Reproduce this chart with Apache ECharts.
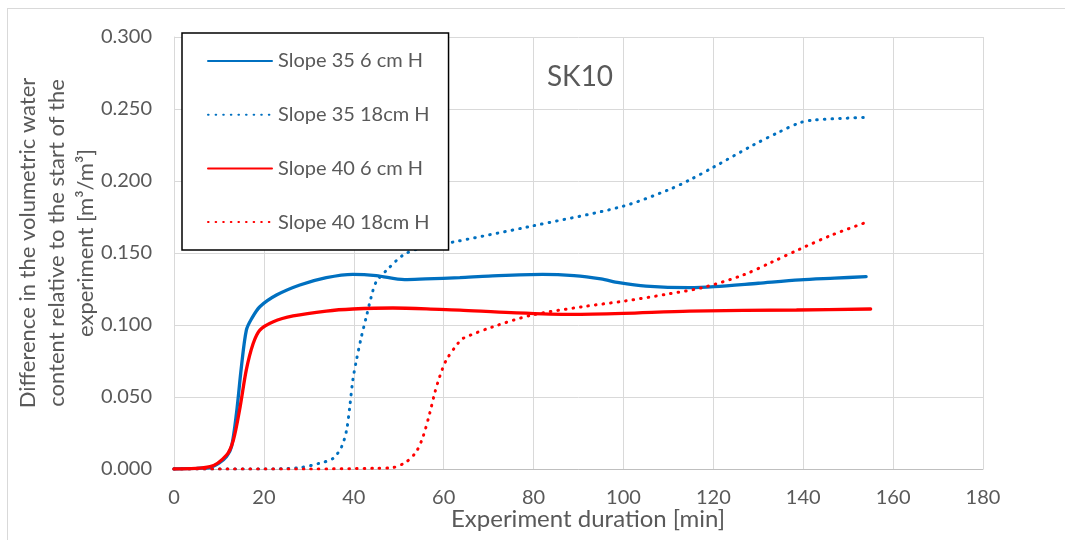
<!DOCTYPE html>
<html>
<head>
<meta charset="utf-8">
<script src="https://cdn.jsdelivr.net/npm/echarts@6/dist/echarts.min.js"></script>
<style>
  html, body { margin: 0; padding: 0; background: #fff; }
  #frame { position: absolute; left: 7px; top: 8px; width: 1070px; height: 540px; border: 1px solid #d9d9d9; box-sizing: border-box; }
  #main { position: absolute; left: 0; top: 0; width: 1065px; height: 540px; }
</style>
</head>
<body>
<div id="frame"></div>
<div id="main"></div>
<script>
// time [min] and value [m3/m3]
var s35_6_t = [0, 5, 8, 10, 11.7, 12.8, 13.9, 15, 16.1, 17.3, 19.1, 22.8, 28, 33.9, 39.8, 45, 51.3, 56, 63.6, 70, 82, 89, 95, 99, 105, 114.7, 120.2, 130, 139.3, 147, 154]
var s35_6_v = [0, 0.0005, 0.001, 0.004, 0.0086, 0.0155, 0.0387, 0.071, 0.0965, 0.1046, 0.1127, 0.1208, 0.1278, 0.1329, 0.1352, 0.1343, 0.1315, 0.132, 0.1329, 0.134, 0.1352, 0.1343, 0.132, 0.1294, 0.127, 0.1259, 0.1266, 0.129, 0.1313, 0.1325, 0.1336]

var s35_18_t = [0, 20, 28, 32.4, 35.4, 37.3, 38.4, 39.1, 39.8, 40.6, 41.7, 42.8, 43.9, 45, 47.3, 51, 54.7, 61.5, 79, 99.6, 109.9, 114.7, 120.2, 128.9, 134.5, 139.3, 142.5, 154]
var s35_18_v = [0, 0, 0.001, 0.004, 0.0074, 0.0155, 0.027, 0.043, 0.062, 0.0757, 0.0919, 0.1058, 0.1197, 0.13, 0.138, 0.1486, 0.1532, 0.1572, 0.1683, 0.1822, 0.1937, 0.2007, 0.2099, 0.225, 0.2338, 0.2405, 0.2424, 0.2442]

var s40_6_t = [0, 8, 11.7, 13.2, 14.7, 16.1, 17.6, 19.1, 22.1, 26.5, 33.9, 39.8, 48.7, 59.1, 63.6, 75, 88.5, 100, 114.7, 138.5, 155]
var s40_6_v = [0, 0.0016, 0.0097, 0.02, 0.043, 0.069, 0.087, 0.0965, 0.1023, 0.1063, 0.1097, 0.1111, 0.1118, 0.1109, 0.1104, 0.1086, 0.1074, 0.1081, 0.1097, 0.1104, 0.1111]

var s40_18_t = [0, 30, 45, 48.7, 51.7, 53.9, 55.4, 56.9, 58, 59.1, 60.6, 63.2, 64.3, 71, 79.8, 90.9, 100.4, 109.9, 117.9, 126.6, 132.9, 139.3, 146.4, 154]
var s40_18_v = [0, 0, 0.0005, 0.001, 0.005, 0.012, 0.0224, 0.0387, 0.0526, 0.064, 0.0757, 0.0873, 0.0907, 0.0988, 0.107, 0.1127, 0.1167, 0.1215, 0.1262, 0.1347, 0.1435, 0.1528, 0.1625, 0.1713]

var seriesNames = ['Slope 35 6 cm H', 'Slope 35 18cm H', 'Slope 40 6 cm H', 'Slope 40 18cm H']

function pairs(t, v) {
  return t.map(function (x, i) { return [x, v[i]] })
}

var font = 'Lato, "Open Sans", sans-serif'
var grey = '#595959'
var blue = '#0070C0'
var red = '#FF0000'

var myChart = echarts.init(document.getElementById('main'))

function lineSeries(name, data, color, dotted) {
  return {
    name: name,
    type: 'line',
    data: data,
    smooth: 0.3,
    showSymbol: false,
    symbol: 'none',
    color: color,
    lineStyle: dotted
      ? { color: color, width: 3, type: [0.6, 7], cap: 'round' }
      : { color: color, width: 3.3, cap: 'round' }
  }
}

var option = {
  animation: false,
  textStyle: { fontFamily: font },
  title: {
    text: 'SK10',
    left: 575,
    top: 58,
    textAlign: 'center',
    textStyle: { fontFamily: font, fontSize: 28, fontWeight: 'normal', color: grey }
  },
  legend: {
    orient: 'vertical',
    left: 182,
    top: 33,
    padding: [18, 19, 18, 25],
    itemGap: 33.7,
    itemWidth: 64,
    itemHeight: 20,
    backgroundColor: '#fff',
    borderColor: '#000',
    borderWidth: 1.5,
    borderRadius: 0,
    itemStyle: { opacity: 0 },
    data: seriesNames,
    textStyle: { fontFamily: font, fontSize: 20, lineHeight: 20, color: grey, padding: [0, 0, 0, 1] }
  },
  grid: {
    left: 174,
    right: 82,
    top: 37,
    bottom: 71,
    outerBoundsMode: 'none',
    containLabel: false
  },
  xAxis: {
    type: 'value',
    min: 0,
    max: 180,
    interval: 20,
    name: 'Experiment duration [min]',
    nameLocation: 'middle',
    nameGap: 38,
    nameMoveOverlap: false,
    nameTextStyle: { fontFamily: font, fontSize: 24, color: grey, padding: [0, 0, 0, 19] },
    axisLine: { show: true, lineStyle: { color: '#bfbfbf', width: 1 } },
    axisTick: { show: false },
    axisLabel: { fontFamily: font, fontSize: 20, color: grey, margin: 19 },
    splitLine: { show: true, lineStyle: { color: '#d9d9d9', width: 1 } }
  },
  yAxis: {
    type: 'value',
    min: 0,
    max: 0.3,
    interval: 0.05,
    name: 'Difference in the volumetric water\ncontent relative to the start of the\nexperiment [m³/m³]',
    nameLocation: 'middle',
    nameRotate: 90,
    nameGap: 74,
    nameMoveOverlap: false,
    nameTextStyle: { fontFamily: font, fontSize: 22, color: grey, lineHeight: 29, align: 'center', padding: [0, 0, 0, 20] },
    axisLine: { show: true, lineStyle: { color: '#d9d9d9', width: 1 } },
    axisTick: { show: false },
    axisLabel: {
      fontFamily: font, fontSize: 20, color: grey, margin: 22,
      formatter: function (v) { return v.toFixed(3) }
    },
    splitLine: { show: true, lineStyle: { color: '#d9d9d9', width: 1 } }
  },
  series: [
    lineSeries(seriesNames[0], pairs(s35_6_t, s35_6_v), blue, false),
    lineSeries(seriesNames[1], pairs(s35_18_t, s35_18_v), blue, true),
    lineSeries(seriesNames[2], pairs(s40_6_t, s40_6_v), red, false),
    lineSeries(seriesNames[3], pairs(s40_18_t, s40_18_v), red, true)
  ]
}

myChart.setOption(option)
</script>
</body>
</html>
